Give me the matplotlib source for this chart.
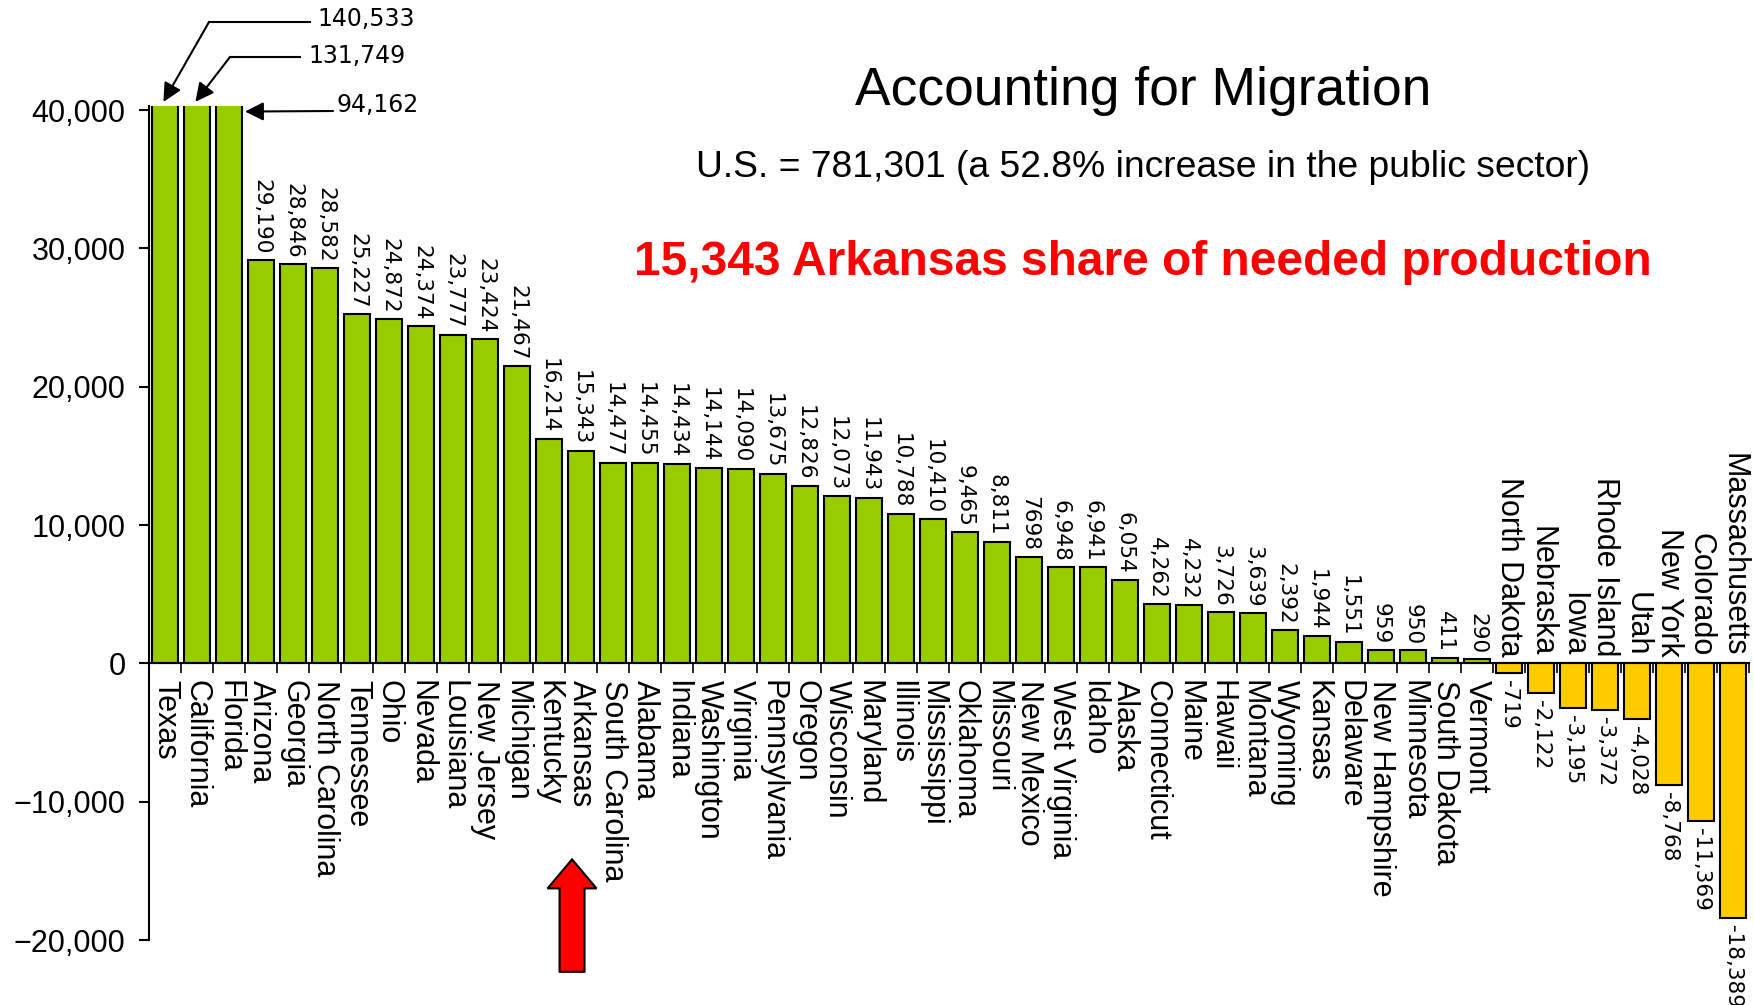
import numpy as np
import matplotlib
matplotlib.use("Agg")
import matplotlib.pyplot as plt
from matplotlib.patches import FancyArrow

states = ["Texas", "California", "Florida", "Arizona", "Georgia", "North Carolina",
          "Tennessee", "Ohio", "Nevada", "Louisiana", "New Jersey", "Michigan",
          "Kentucky", "Arkansas", "South Carolina", "Alabama", "Indiana", "Washington",
          "Virginia", "Pennsylvania", "Oregon", "Wisconsin", "Maryland", "Illinois",
          "Mississippi", "Oklahoma", "Missouri", "New Mexico", "West Virginia", "Idaho",
          "Alaska", "Connecticut", "Maine", "Hawaii", "Montana", "Wyoming", "Kansas",
          "Delaware", "New Hampshire", "Minnesota", "South Dakota", "Vermont",
          "North Dakota", "Nebraska", "Iowa", "Rhode Island", "Utah", "New York",
          "Colorado", "Massachusetts"]
values = [140533, 131749, 94162, 29190, 28846, 28582, 25227, 24872, 24374, 23777,
          23424, 21467, 16214, 15343, 14477, 14455, 14434, 14144, 14090, 13675,
          12826, 12073, 11943, 10788, 10410, 9465, 8811, 7698, 6948, 6941,
          6054, 4262, 4232, 3726, 3639, 2392, 1944, 1551, 959, 950,
          411, 290, -719, -2122, -3195, -3372, -4028, -8768, -11369, -18389]
value_labels = [f"{v:,}" for v in values]
value_labels[states.index("New Mexico")] = "7698"

y_ticks = [-20000, -10000, 0, 10000, 20000, 30000, 40000]
y_top = 40300
highlight = "Arkansas"

title = "Accounting for Migration"
subtitle = "U.S. = 781,301 (a 52.8% increase in the public sector)"
callout = "15,343 Arkansas share of needed production"

plt.rcParams["font.family"] = ["Liberation Sans", "DejaVu Sans"]

W, H = 1754, 1005
fig = plt.figure(figsize=(W / 100, H / 100), dpi=100)
ax = fig.add_axes([149 / W, 65 / H, 1600 / W, 834 / H])

x = np.arange(len(values))
colors = ["#99CC00" if v >= 0 else "#FFCC00" for v in values]
ax.bar(x, values, width=0.84, color=colors, edgecolor="black", linewidth=1.5, zorder=2)

ax.set_xlim(-0.5, len(values) - 0.5)
ax.set_ylim(y_ticks[0], y_top)

for s in ["top", "right"]:
    ax.spines[s].set_visible(False)
ax.spines["left"].set_linewidth(1.5)
ax.spines["bottom"].set_position(("data", 0))
ax.spines["bottom"].set_linewidth(1.5)
ax.spines["bottom"].set_zorder(3)

ax.set_yticks(y_ticks)
ax.set_yticklabels([f"{t:,}".replace("-", "\u2212") for t in y_ticks], fontsize=22)
ax.tick_params(axis="y", length=7, width=1.5, pad=10)
ax.set_xticks(np.arange(-0.5, len(values), 1))
ax.set_xticklabels([])
ax.tick_params(axis="x", length=7, width=1.2, direction="out")

# state names and value labels
for i, (name, v, lab) in enumerate(zip(states, values, value_labels)):
    if v >= 0:
        ax.annotate(name, (i, 0), xytext=(0, -12), textcoords="offset points",
                    rotation=270, ha="center", va="top", fontsize=22)
        if v < y_top:
            ax.annotate(lab, (i, v), xytext=(0, 4), textcoords="offset points",
                        rotation=270, ha="center", va="bottom", fontsize=15.5,
                        family="DejaVu Sans")
    else:
        ax.annotate(name, (i, 0), xytext=(0, 5), textcoords="offset points",
                    rotation=270, ha="center", va="bottom", fontsize=22)
        ax.annotate(lab, (i, v), xytext=(0, -5), textcoords="offset points",
                    rotation=270, ha="center", va="top", fontsize=15.5,
                    family="DejaVu Sans")

# callouts for the bars that run off the top
arrow_kw = dict(arrowstyle="-|>", color="black", lw=1.5, mutation_scale=28,
                shrinkA=0, shrinkB=0)
ann_kw = dict(fontsize=17, family="DejaVu Sans", va="center", ha="left")
# (bar index, corner px, line end px, text px) in top-left pixel coords
callouts = [(0, (209, 22), (310, 22), (317, 19)),
            (1, (230, 57), (300, 57), (308, 56)),
            (2, None, (333, 111), (337, 105))]
for idx, corner, end, tpos in callouts:
    fp = lambda p: (p[0], H - p[1])
    if corner is not None:
        ax.annotate("", xy=(idx - 0.05, y_top + 300), xycoords="data",
                    xytext=fp(corner), textcoords="figure pixels",
                    arrowprops=arrow_kw, annotation_clip=False)
        fig.add_artist(plt.Line2D([corner[0] / W, end[0] / W],
                                  [1 - corner[1] / H, 1 - end[1] / H],
                                  color="black", lw=1.5))
    else:
        ax.annotate("", xy=(idx + 0.5, 40000 - 100), xycoords="data",
                    xytext=fp(end), textcoords="figure pixels",
                    arrowprops=arrow_kw, annotation_clip=False)
    fig.text(tpos[0] / W, 1 - tpos[1] / H, f"{values[idx]:,}", **ann_kw)

# red block arrow under Arkansas
hi = states.index(highlight)
arr = FancyArrow(hi - 0.28, -22300, 0, 8130, width=0.78, head_width=1.53,
                 head_length=2100, length_includes_head=True,
                 facecolor="#FF0000", edgecolor="black", linewidth=1.5, clip_on=False)
ax.add_patch(arr)

cx = 1143 / W
fig.text(cx, 1 - 105 / H, title, ha="center", va="baseline", fontsize=38.4)
fig.text(cx, 1 - 177 / H, subtitle, ha="center", va="baseline", fontsize=26.8)
fig.text(cx, 1 - 275 / H, callout, ha="center", va="baseline", fontsize=34.5,
         fontweight="bold", color="#FF0000")

fig.savefig("out.png", dpi=100)
